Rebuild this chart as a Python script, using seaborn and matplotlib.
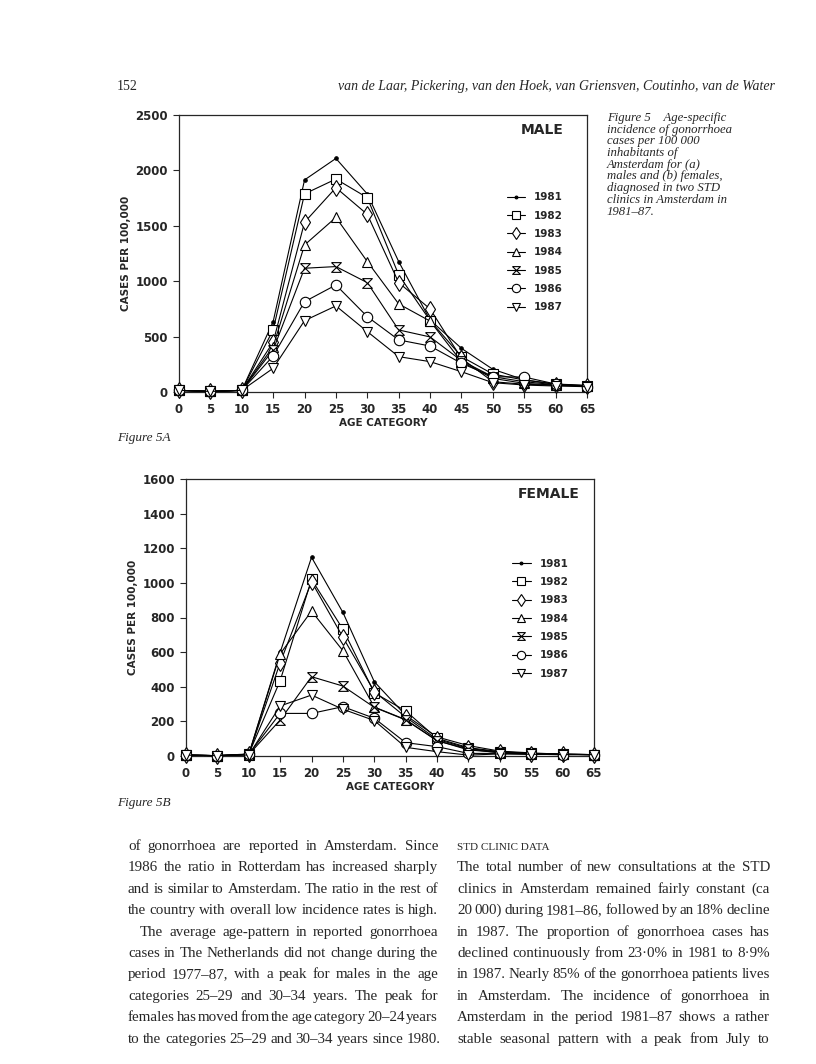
import matplotlib
matplotlib.use("Agg")
import matplotlib.pyplot as plt
import seaborn as sns
import pandas as pd

# age categories (x axis)
ages = [0, 5, 10, 15, 20, 25, 30, 35, 40, 45, 50, 55, 60, 65]
years = ['1981', '1982', '1983', '1984', '1985', '1986', '1987']

# cases per 100,000 - males
male_1981 = [15, 5, 15, 635, 1914, 2108, 1787, 1177, 650, 394, 205, 110, 72, 60]
male_1982 = [15, 5, 15, 560, 1788, 1922, 1754, 1057, 645, 319, 162, 108, 69, 57]
male_1983 = [15, 5, 15, 450, 1532, 1844, 1603, 987, 750, 304, 93, 70, 60, 55]
male_1984 = [15, 5, 15, 410, 1327, 1576, 1177, 795, 640, 274, 123, 78, 62, 55]
male_1985 = [15, 5, 15, 380, 1117, 1132, 987, 560, 497, 283, 138, 93, 65, 55]
male_1986 = [15, 5, 15, 325, 815, 966, 680, 470, 415, 259, 138, 135, 72, 48]
male_1987 = [15, 5, 15, 214, 644, 777, 545, 319, 274, 183, 84, 63, 54, 48]

# cases per 100,000 - females
female_1981 = [5, 2, 10, 598, 1148, 829, 429, 235, 110, 60, 28, 18, 10, 8]
female_1982 = [5, 2, 12, 435, 1020, 732, 365, 260, 102, 48, 25, 15, 10, 8]
female_1983 = [5, 2, 10, 539, 1007, 686, 372, 225, 96, 44, 22, 14, 10, 8]
female_1984 = [5, 2, 8, 590, 837, 608, 283, 210, 89, 35, 20, 13, 10, 8]
female_1985 = [5, 2, 8, 208, 458, 404, 281, 208, 88, 40, 18, 12, 10, 8]
female_1986 = [5, 2, 10, 246, 246, 285, 218, 77, 54, 15, 15, 10, 8, 8]
female_1987 = [5, 2, 6, 289, 352, 270, 205, 50, 25, 5, 12, 10, 8, 8]

male = [male_1981, male_1982, male_1983, male_1984, male_1985, male_1986, male_1987]
female = [female_1981, female_1982, female_1983, female_1984, female_1985, female_1986, female_1987]

W, H = 816, 1064

hourglass = [(-1, 1), (1, 1), (-1, -1), (1, -1), (-1, 1)]
markers = {'1981': 'o', '1982': 's', '1983': 'd', '1984': '^',
           '1985': hourglass, '1986': 'o', '1987': 'v'}
msizes = {'1981': 2.5, '1982': 7, '1983': 8, '1984': 7.5,
          '1985': 7, '1986': 7.5, '1987': 7.5}


def long_df(series):
    rows = []
    for yr, vals in zip(years, series):
        for a, v in zip(ages, vals):
            rows.append({'age': a, 'cases': v, 'year': yr})
    return pd.DataFrame(rows)


def px(x, y):
    return x / W, 1 - y / H


sns.set_style('ticks')
plt.rcParams['font.family'] = ['DejaVu Sans']
fig = plt.figure(figsize=(W / 100, H / 100), dpi=100)


def panel(rect, series, ymax, ystep, title, leg_anchor):
    ax = fig.add_axes(rect)
    df = long_df(series)
    for yr in years:
        filled = yr == '1981'
        sns.lineplot(data=df[df['year'] == yr], x='age', y='cases', ax=ax,
                     color='black', lw=0.8, marker=markers[yr],
                     markersize=msizes[yr],
                     markerfacecolor='black' if filled else 'white',
                     markeredgecolor='black', markeredgewidth=0.8,
                     label=yr, clip_on=False, zorder=3)
    ax.set_xlim(0, 65)
    ax.set_ylim(0, ymax)
    ax.set_xticks(ages)
    ax.set_yticks(range(0, ymax + 1, ystep))
    for s in ax.spines.values():
        s.set_visible(True)
        s.set_linewidth(0.9)
    ax.tick_params(direction='out', length=4, width=0.8, labelsize=8.5, pad=4)
    for lab in ax.get_xticklabels() + ax.get_yticklabels():
        lab.set_fontweight('bold')
    ax.set_xlabel('AGE CATEGORY', fontsize=7.5, fontweight='bold', labelpad=1)
    ax.set_ylabel('CASES PER 100,000', fontsize=7.5, fontweight='bold', labelpad=3)
    ax.text(0.89, 0.945, title, transform=ax.transAxes, ha='center', va='center',
            fontsize=10, fontweight='bold')
    ax.legend(loc='upper left', bbox_to_anchor=leg_anchor, frameon=False,
              borderpad=0, handlelength=1.75, handletextpad=0.9,
              labelspacing=0.8, markerscale=0.8,
              prop={'size': 7.5, 'weight': 'bold'})
    return ax


panel([179 / W, 1 - 392 / H, 408 / W, 277 / H], male, 2500, 500, 'MALE', (0.79, 0.74))
panel([186 / W, 1 - 756 / H, 408 / W, 277 / H], female, 1600, 200, 'FEMALE', (0.787, 0.731))

serif = 'Liberation Serif'

# page header
fig.text(*px(117, 90), '152', family=serif, fontsize=10)
fig.text(*px(556, 90), 'van de Laar, Pickering, van den Hoek, van Griensven, Coutinho, van de Water',
         family=serif, style='italic', fontsize=10, ha='center')

# caption
caption = ['Figure 5    Age-specific', 'incidence of gonorrhoea', 'cases per 100 000',
           'inhabitants of', 'Amsterdam for (a)', 'males and (b) females,',
           'diagnosed in two STD', 'clinics in Amsterdam in', '1981–87.']
for i, line in enumerate(caption):
    fig.text(*px(607, 121 + i * 11.7), line, family=serif, style='italic', fontsize=9.2)

fig.text(*px(117, 441), 'Figure 5A', family=serif, style='italic', fontsize=9.5)
fig.text(*px(117, 806), 'Figure 5B', family=serif, style='italic', fontsize=9.5)

# body text, two justified columns
renderer = fig.canvas.get_renderer()


def put_line(x0, y, width, line, justify=True, size=10.8):
    words = line.split(' ')
    arts = [fig.text(0, 0, w, family=serif, fontsize=size) for w in words]
    widths = [a.get_window_extent(renderer).width for a in arts]
    gap = 3.5
    if justify and len(words) > 1:
        gap = (width - sum(widths)) / (len(words) - 1)
    x = x0
    for a, w in zip(arts, widths):
        a.set_position(px(x, y))
        x += w + gap


left_col = ['of gonorrhoea are reported in Amsterdam. Since',
            '1986 the ratio in Rotterdam has increased sharply',
            'and is similar to Amsterdam. The ratio in the rest of',
            'the country with overall low incidence rates is high.',
            'The average age-pattern in reported gonorrhoea',
            'cases in The Netherlands did not change during the',
            'period 1977–87, with a peak for males in the age',
            'categories 25–29 and 30–34 years. The peak for',
            'females has moved from the age category 20–24 years',
            'to the categories 25–29 and 30–34 years since 1980.']
right_col = ['The total number of new consultations at the STD',
             'clinics in Amsterdam remained fairly constant (ca',
             '20 000) during 1981–86, followed by an 18% decline',
             'in 1987. The proportion of gonorrhoea cases has',
             'declined continuously from 23·0% in 1981 to 8·9%',
             'in 1987. Nearly 85% of the gonorrhoea patients lives',
             'in Amsterdam. The incidence of gonorrhoea in',
             'Amsterdam in the period 1981–87 shows a rather',
             'stable seasonal pattern with a peak from July to']

for i, line in enumerate(left_col):
    indent = 12 if i == 4 else 0
    put_line(128 + indent, 850 + i * 21.4, 310 - indent, line, justify=(i != 9))

fig.text(*px(457, 850), 'STD CLINIC DATA', family=serif, fontsize=8)
for i, line in enumerate(right_col):
    put_line(457, 871.4 + i * 21.4, 313, line)

fig.savefig('out.png', dpi=100)
